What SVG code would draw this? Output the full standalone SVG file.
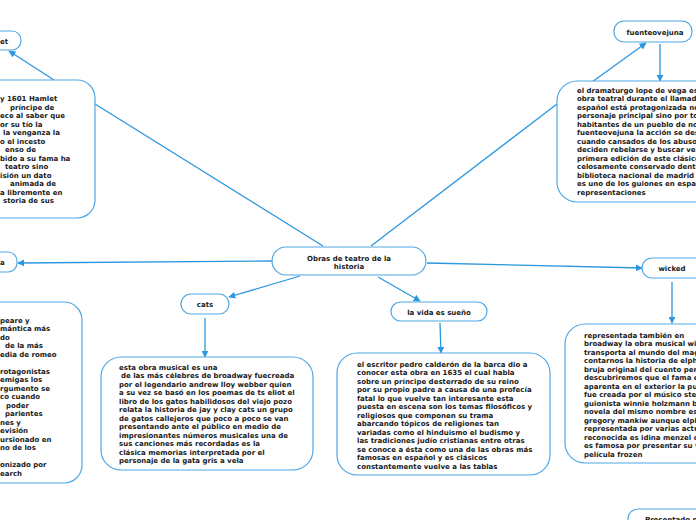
<svg xmlns="http://www.w3.org/2000/svg" width="696" height="520" viewBox="0 0 696 520">
<style>
.box{fill:#fff;stroke:#4fa8e6;stroke-width:1.2}
.t{font-family:"DejaVu Sans",Verdana,sans-serif;font-weight:bold;font-size:7px;fill:#1a1a1a}
.c{text-anchor:middle}
.ln{stroke:#2b97de;stroke-width:1.3;fill:none}
.ar{stroke:#2b97de;stroke-width:1.3;fill:none;marker-end:url(#ah)}
</style>
<defs>
<marker id="ah" viewBox="0 0 10 10" refX="9" refY="5" markerWidth="7" markerHeight="7" markerUnits="userSpaceOnUse" orient="auto">
<path d="M0,0 L10,5 L0,10 z" fill="#2b97de"/>
</marker>
</defs>
<rect width="696" height="520" fill="#fff"/>
<g id="connectors">
<line class="ln" x1="323" y1="246" x2="95" y2="104"/>
<line class="ar" x1="54" y1="80" x2="9" y2="51"/>
<line class="ar" x1="272" y1="261" x2="18" y2="263"/>
<line class="ar" x1="300" y1="276" x2="229" y2="297"/>
<line class="ar" x1="205" y1="318" x2="205" y2="357"/>
<line class="ar" x1="378" y1="277" x2="420" y2="301"/>
<line class="ar" x1="440" y1="323" x2="441" y2="353"/>
<line class="ln" x1="371" y1="246" x2="557" y2="104"/>
<line class="ar" x1="592" y1="82" x2="646" y2="43"/>
<line class="ar" x1="660" y1="44" x2="660" y2="81"/>
<line class="ar" x1="427" y1="263" x2="642" y2="268"/>
<line class="ar" x1="672" y1="282" x2="672" y2="323"/>
</g>
<g id="center">
<rect class="box" x="272" y="247" width="154" height="28" rx="14"/>
<text class="t c" x="349" y="260.5">Obras de teatro de la</text>
<text class="t c" x="349" y="268.5">historia</text>
</g>
<g id="hamlet">
<rect class="box" x="-40" y="31" width="61" height="19" rx="9"/>
<text class="t" x="0" y="43.5">et</text>
</g>
<g id="hamlet-text">
<rect class="box" x="-60" y="80" width="155" height="138" rx="18"/>
<text class="t" x="0" y="101">y 1601 Hamlet</text>
<text class="t" x="10" y="109.5">príncipe de</text>
<text class="t" x="0" y="118">ece al saber que</text>
<text class="t" x="0" y="126.5">or su tío la</text>
<text class="t" x="3" y="135">la venganza la</text>
<text class="t" x="0" y="143.5">o el incesto</text>
<text class="t" x="5" y="152">enso de</text>
<text class="t" x="0" y="160.5">bido a su fama ha</text>
<text class="t" x="5" y="169">teatro sino</text>
<text class="t" x="0" y="177.5">isión un dato</text>
<text class="t" x="10" y="186">animada de</text>
<text class="t" x="0" y="194.5">a libremente en</text>
<text class="t" x="3" y="203">storia de sus</text>
</g>
<g id="romeo">
<rect class="box" x="-40" y="252" width="57" height="20" rx="9"/>
<text class="t" x="0" y="265">a</text>
</g>
<g id="romeo-text">
<rect class="box" x="-60" y="302" width="142" height="181" rx="18"/>
<text class="t" x="0" y="322.5">peare y</text>
<text class="t" x="0" y="331">mántica más</text>
<text class="t" x="0" y="339.5">do</text>
<text class="t" x="5" y="348">de la más</text>
<text class="t" x="0" y="356.5">edia de romeo</text>
<text class="t" x="0" y="373.5">rotagonistas</text>
<text class="t" x="0" y="382">emigas los</text>
<text class="t" x="0" y="390.5">rgumento se</text>
<text class="t" x="0" y="399">co cuando</text>
<text class="t" x="6" y="407.5">poder</text>
<text class="t" x="5" y="416">parientes</text>
<text class="t" x="0" y="424.5">nes y</text>
<text class="t" x="0" y="433">evisión</text>
<text class="t" x="0" y="441.5">ursionado en</text>
<text class="t" x="0" y="450">no de los</text>
<text class="t" x="0" y="467">onizado por</text>
<text class="t" x="0" y="475.5">earch</text>
</g>
<g id="cats">
<rect class="box" x="181" y="294" width="48" height="20" rx="10"/>
<text class="t c" x="205" y="307">cats</text>
</g>
<g id="cats-text">
<rect class="box" x="101" y="357" width="212" height="113" rx="20"/>
<text class="t" x="119" y="369.5">esta obra musical es una</text>
<text class="t" x="121" y="378">de las más célebres de broadway fuecreada</text>
<text class="t" x="119" y="386.5">por el legendario andrew lloy webber quien</text>
<text class="t" x="119" y="395">a su vez se basó en los poemas de ts eliot el</text>
<text class="t" x="119" y="403.5">libro de los gatos habilidosos del viejo pozo</text>
<text class="t" x="119" y="412">relata la historia de jay y clay cats un grupo</text>
<text class="t" x="119" y="420.5">de gatos callejeros que poco a poco se van</text>
<text class="t" x="119" y="429">presentando ante el público en medio de</text>
<text class="t" x="119" y="437.5">impresionantes números musicales una de</text>
<text class="t" x="119" y="446">sus canciones más recordadas es la</text>
<text class="t" x="119" y="454.5">clásica memorias interpretada por el</text>
<text class="t" x="119" y="463">personaje de la gata gris a vela</text>
</g>
<g id="vida">
<rect class="box" x="391" y="302" width="96" height="19" rx="9.5"/>
<text class="t c" x="439" y="314.5">la vida es sueño</text>
</g>
<g id="vida-text">
<rect class="box" x="337" y="353" width="213" height="122" rx="20"/>
<text class="t" x="357" y="366.5">el escritor pedro calderón de la barca dio a</text>
<text class="t" x="357" y="375">conocer esta obra en 1635 el cual habla</text>
<text class="t" x="357" y="383.5">sobre un príncipe desterrado de su reino</text>
<text class="t" x="357" y="392">por su propio padre a causa de una profecía</text>
<text class="t" x="357" y="400.5">fatal lo que vuelve tan interesante esta</text>
<text class="t" x="357" y="409">puesta en escena son los temas filosóficos y</text>
<text class="t" x="357" y="417.5">religiosos que componen su trama</text>
<text class="t" x="357" y="426">abarcando tópicos de religiones tan</text>
<text class="t" x="357" y="434.5">variadas como el hinduismo el budismo y</text>
<text class="t" x="357" y="443">las tradiciones judío cristianas entre otras</text>
<text class="t" x="357" y="451.5">se conoce a ésta como una de las obras más</text>
<text class="t" x="357" y="460">famosas en español y es clásicos</text>
<text class="t" x="357" y="468.5">constantemente vuelve a las tablas</text>
</g>
<g id="fuenteovejuna">
<rect class="box" x="614" y="21" width="78" height="21" rx="10"/>
<text class="t c" x="655" y="34.5">fuenteovejuna</text>
</g>
<g id="fuenteovejuna-text">
<rect class="box" x="557" y="81" width="180" height="121" rx="20"/>
<text class="t" x="577" y="92.5">el dramaturgo lope de vega esc</text>
<text class="t" x="577" y="101">obra teatral durante el llamado</text>
<text class="t" x="577" y="109.5">español está protagonizada no</text>
<text class="t" x="577" y="118">personaje principal sino por to</text>
<text class="t" x="577" y="126.5">habitantes de un pueblo de nom</text>
<text class="t" x="577" y="135">fuenteovejuna la acción se des</text>
<text class="t" x="577" y="143.5">cuando cansados de los abusos</text>
<text class="t" x="577" y="152">deciden rebelarse y buscar ver</text>
<text class="t" x="577" y="160.5">primera edición de este clásico</text>
<text class="t" x="577" y="169">celosamente conservado dentr</text>
<text class="t" x="577" y="177.5">biblioteca nacional de madrid y</text>
<text class="t" x="577" y="186">es uno de los guiones en españ</text>
<text class="t" x="577" y="194.5">representaciones</text>
</g>
<g id="wicked">
<rect class="box" x="642" y="258" width="80" height="20" rx="10"/>
<text class="t c" x="672" y="271">wicked</text>
</g>
<g id="wicked-text">
<rect class="box" x="565" y="324" width="180" height="139" rx="20"/>
<text class="t" x="584" y="337.5">representada también en</text>
<text class="t" x="584" y="346">broadway la obra musical wi</text>
<text class="t" x="584" y="354.5">transporta al mundo del mag</text>
<text class="t" x="584" y="363">contarnos la historia de elph</text>
<text class="t" x="584" y="371.5">bruja original del cuento per</text>
<text class="t" x="584" y="380">descubriremos que el fama e</text>
<text class="t" x="584" y="388.5">aparenta en el exterior la pu</text>
<text class="t" x="584" y="397">fue creada por el músico step</text>
<text class="t" x="584" y="405.5">guionista winnie holzmann b</text>
<text class="t" x="584" y="414">novela del  mismo nombre es</text>
<text class="t" x="584" y="422.5">gregory mankiw aunque elph</text>
<text class="t" x="584" y="431">representada por varias actr</text>
<text class="t" x="584" y="439.5">reconocida es idina menzel c</text>
<text class="t" x="584" y="448">es famosa por presentar su v</text>
<text class="t" x="584" y="456.5">película frozen</text>
</g>
<g id="presentado">
<rect class="box" x="628" y="509" width="100" height="30" rx="10"/>
<text class="t" x="645" y="521.5">Presentado p</text>
</g>
</svg>
